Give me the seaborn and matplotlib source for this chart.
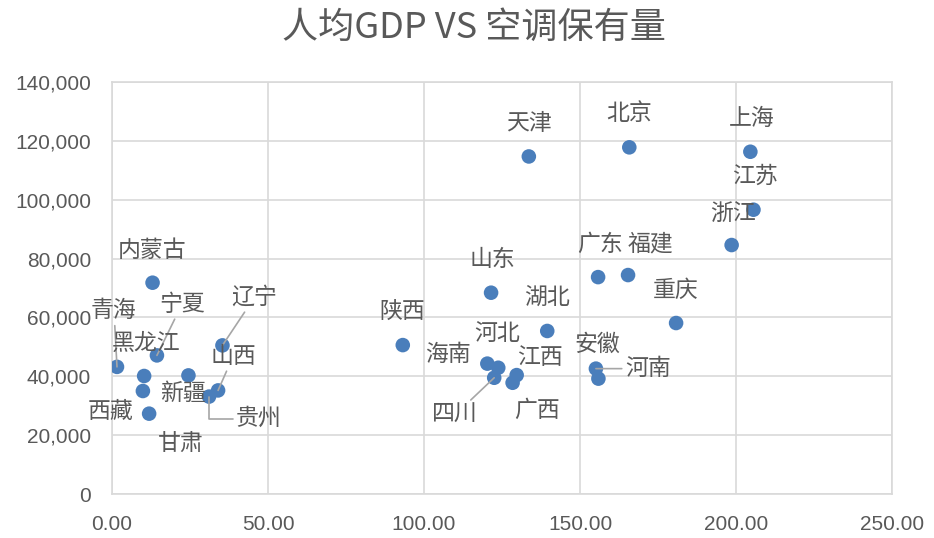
import numpy as np
import pandas as pd
import matplotlib
matplotlib.use("Agg")
import matplotlib.pyplot as plt
import seaborn as sns
from matplotlib.ticker import FuncFormatter, MultipleLocator

# 数据：每百户空调保有量 vs 人均GDP
provinces = ["北京", "天津", "上海", "江苏", "浙江", "广东", "福建", "重庆",
             "山东", "湖北", "陕西", "河北", "海南", "江西", "四川", "广西",
             "安徽", "河南", "内蒙古", "青海", "宁夏", "辽宁", "黑龙江", "山西",
             "新疆", "西藏", "贵州", "甘肃"]
ac_per_100 = [165.8, 133.6, 204.6, 205.6, 198.6, 155.8, 165.4, 180.8,
              121.5, 139.5, 93.2, 123.8, 120.3, 129.7, 122.5, 128.4,
              155.9, 155.1, 13.0, 1.6, 14.4, 35.4, 10.3, 34.0,
              24.5, 9.9, 31.1, 11.9]
gdp_per_capita = [117800, 114700, 116300, 96600, 84600, 73700, 74400, 58100,
                  68400, 55400, 50600, 42900, 44300, 40400, 39500, 37800,
                  39200, 42600, 71800, 43200, 47100, 50500, 40100, 35200,
                  40300, 35000, 33100, 27300]

# 标签偏移（像素，向上为正）
label_offsets = {
    "北京": (0, 34), "天津": (0, 33), "上海": (1, 33), "江苏": (1, 33),
    "浙江": (1, 32), "广东": (2, 33), "福建": (22, 31), "重庆": (0, 33),
    "山东": (1, 33), "湖北": (0, 34), "陕西": (-1, 33), "河北": (-1, 34),
    "海南": (-39, 9), "江西": (23, 18), "四川": (-39, -37), "广西": (24, -28),
    "安徽": (-1, 34), "河南": (52, 0), "内蒙古": (0, 32), "青海": (-3, 56),
    "宁夏": (25, 51), "辽宁": (32, 48), "黑龙江": (2, 33), "山西": (15, 34),
    "新疆": (-5, -18), "西藏": (-32, -20), "贵州": (50, -22), "甘肃": (32, -30),
}
leaders = {"青海": "arc3", "宁夏": "arc3", "辽宁": "arc3", "山西": "arc3",
           "四川": "arc3", "河南": "arc3",
           "贵州": "angle,angleA=0,angleB=90,rad=0"}

df = pd.DataFrame({"省份": provinces, "空调": ac_per_100, "人均GDP": gdp_per_capita})

sns.set_style("white")
plt.rcParams['font.family'] = ['Noto Sans CJK SC', 'DejaVu Sans']

fig = plt.figure(figsize=(9.34, 5.38), dpi=100)
ax = fig.add_axes([112 / 934, 44 / 538, 780 / 934, 412 / 538])

txt_color = "#595959"
grid_color = "#d9d9d9"

sns.scatterplot(data=df, x="空调", y="人均GDP", ax=ax, color="#4a7ebb",
                s=110, edgecolor="none", zorder=3, legend=False)

ax.set_xlim(0, 250)
ax.set_ylim(0, 140000)
ax.xaxis.set_major_locator(MultipleLocator(50))
ax.yaxis.set_major_locator(MultipleLocator(20000))
ax.xaxis.set_major_formatter(FuncFormatter(lambda v, p: f"{v:.2f}"))
ax.yaxis.set_major_formatter(FuncFormatter(lambda v, p: f"{v:,.0f}"))
ax.grid(True, color=grid_color, linewidth=1.2, zorder=0)
ax.set_axisbelow(True)
for sp in ax.spines.values():
    sp.set_color(grid_color)
    sp.set_linewidth(1.2)
ax.tick_params(length=0, labelsize=15, colors=txt_color)
ax.tick_params(axis="y", pad=15)
ax.tick_params(axis="x", pad=15)
for lab in ax.get_xticklabels() + ax.get_yticklabels():
    lab.set_family(["Liberation Sans", "DejaVu Sans"])
ax.set_xlabel("")
ax.set_ylabel("")

for name, x, y in zip(provinces, ac_per_100, gdp_per_capita):
    dx, dy = label_offsets[name]
    kw = {}
    if name in leaders:
        kw["arrowprops"] = dict(arrowstyle="-", color="#a6a6a6", lw=1.2,
                                shrinkA=0, shrinkB=0,
                                connectionstyle=leaders[name])
    ax.annotate(name, (x, y), xytext=(dx * 0.72, dy * 0.72),
                textcoords="offset points", ha="center", va="center",
                fontsize=16.5, color=txt_color, zorder=4, **kw)

fig.suptitle("人均GDP VS 空调保有量", x=474 / 934, y=1 - 28 / 538,
             va="center", fontsize=26, color=txt_color)

fig.savefig("out.png", dpi=100)
